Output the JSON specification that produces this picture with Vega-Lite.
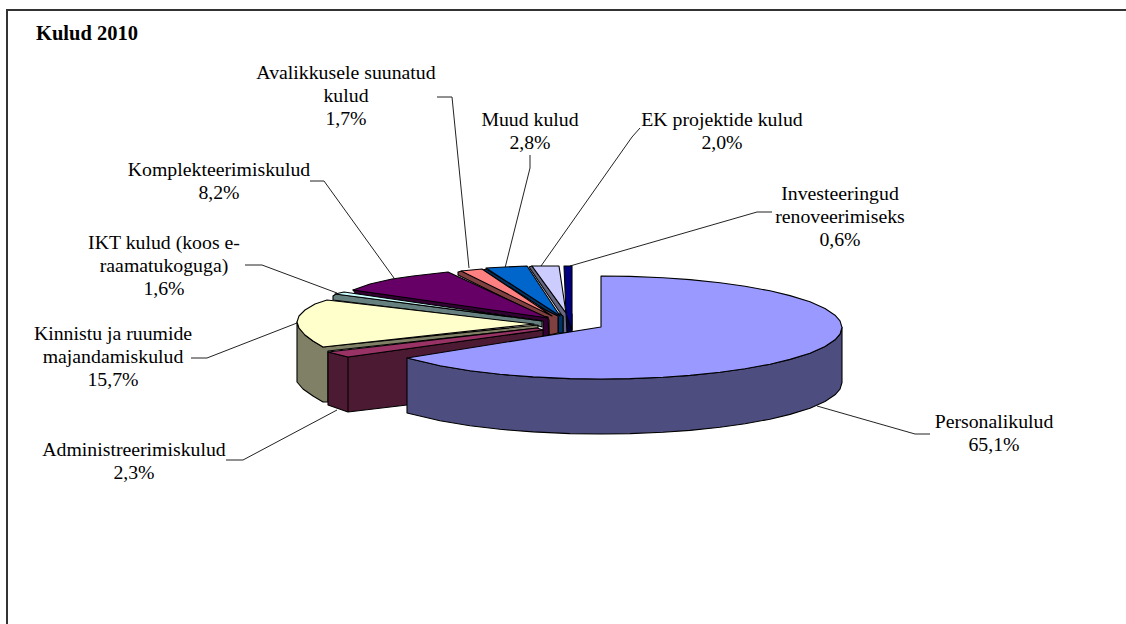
{"$schema":"https://vega.github.io/schema/vega-lite/v6.json","width":1126,"height":624,"autosize":{"type":"fit","contains":"padding"},"padding":0,"background":"white","config":{"view":{"stroke":null}},"projection":{"type":"identity","scale":1,"translate":[0,0]},"layer":[
{"data":{"values":[
{"type":"Feature","properties":{"name":"frame"},"geometry":{"type":"LineString","coordinates":[[7,630],[7,10],[1130,10]]}}]},"mark":{"type":"geoshape","filled":false,"stroke":"#333333","strokeWidth":2}},
{"data":{"values":[
{"type":"Feature","properties":{"name":"Personalikulud"},"geometry":{"type":"LineString","coordinates":[[817,406],[915,434],[930,434]]}},
{"type":"Feature","properties":{"name":"Administreerimiskulud"},"geometry":{"type":"LineString","coordinates":[[337,410],[243,460],[226,460]]}},
{"type":"Feature","properties":{"name":"Kinnistu ja ruumide majandamiskulud"},"geometry":{"type":"LineString","coordinates":[[297,323],[207,358],[191,358]]}},
{"type":"Feature","properties":{"name":"IKT kulud"},"geometry":{"type":"LineString","coordinates":[[337,293],[262,265],[245,265]]}},
{"type":"Feature","properties":{"name":"Komplekteerimiskulud"},"geometry":{"type":"LineString","coordinates":[[394,278],[324,181],[310,181]]}},
{"type":"Feature","properties":{"name":"Avalikkusele suunatud kulud"},"geometry":{"type":"LineString","coordinates":[[469,268],[452,97],[437,97]]}},
{"type":"Feature","properties":{"name":"Muud kulud"},"geometry":{"type":"LineString","coordinates":[[505,268],[530,168],[530,155]]}},
{"type":"Feature","properties":{"name":"EK projektide kulud"},"geometry":{"type":"LineString","coordinates":[[541,266],[632,137],[640,128]]}},
{"type":"Feature","properties":{"name":"Investeeringud renoveerimiseks"},"geometry":{"type":"LineString","coordinates":[[570,266],[757,212],[772,212]]}}]},"mark":{"type":"geoshape","filled":false,"stroke":"#222222","strokeWidth":1}},
{"data":{"values":[
{"type":"Feature","properties":{"piece":"Investeeringud wall"},"geometry":{"type":"Polygon","coordinates":[[[566,314],[572,314],[572,332],[566,333],[566,314]]]}},
{"type":"Feature","properties":{"piece":"Investeeringud top"},"geometry":{"type":"Polygon","coordinates":[[[564,266],[572,266],[572,330],[566,314],[564,266]]]}},
{"type":"Feature","properties":{"piece":"EK wall"},"geometry":{"type":"Polygon","coordinates":[[[529,267],[532,266],[566,313],[567,333],[563,333],[563,317],[529,267]]]}},
{"type":"Feature","properties":{"piece":"EK top"},"geometry":{"type":"Polygon","coordinates":[[[532,266],[559,266],[566,313],[532,266]]]}},
{"type":"Feature","properties":{"piece":"Muud wall"},"geometry":{"type":"Polygon","coordinates":[[[483,270],[486,269],[563,316],[563,333],[558,333],[558,318],[483,270]]]}},
{"type":"Feature","properties":{"piece":"Muud top"},"geometry":{"type":"Polygon","coordinates":[[[486,268],[505,267],[527,266],[560,316],[486,268]]]}},
{"type":"Feature","properties":{"piece":"Avalikkusele wall"},"geometry":{"type":"Polygon","coordinates":[[[458,272],[462,271],[558,316],[558,333],[549,335],[549,320],[458,275],[458,272]]]}},
{"type":"Feature","properties":{"piece":"Avalikkusele top"},"geometry":{"type":"Polygon","coordinates":[[[461,271],[482,269],[552,316],[461,271]]]}},
{"type":"Feature","properties":{"piece":"Komplekteerimiskulud wall"},"geometry":{"type":"Polygon","coordinates":[[[353,290],[548,317],[549,335],[543,336],[543,321],[356,294],[353,290]]]}},
{"type":"Feature","properties":{"piece":"Komplekteerimiskulud top"},"geometry":{"type":"Polygon","coordinates":[[[353,290],[370,284],[392,279],[413,276],[448,272],[548,318],[353,290]]]}},
{"type":"Feature","properties":{"piece":"IKT wall"},"geometry":{"type":"Polygon","coordinates":[[[333,296],[336,294],[542,321],[542,327],[535,325],[333,300],[333,296]]]}},
{"type":"Feature","properties":{"piece":"IKT top"},"geometry":{"type":"Polygon","coordinates":[[[335,294],[344,292],[542,321],[335,294]]]}},
{"type":"Feature","properties":{"piece":"Kinnistu wall"},"geometry":{"type":"Polygon","coordinates":[[[297,322],[299,328],[305,335],[313,341],[323,347],[538,325],[538,328],[328,351],[328,402],[323,402],[313,396],[303,389],[297,382],[297,322]]]}},
{"type":"Feature","properties":{"piece":"Kinnistu top"},"geometry":{"type":"Polygon","coordinates":[[[327,300],[315,304],[305,310],[299,316],[297,322],[299,328],[305,335],[313,341],[323,347],[534,324],[327,300]]]}},
{"type":"Feature","properties":{"piece":"Administreerimiskulud wall"},"geometry":{"type":"Polygon","coordinates":[[[328,352],[348,357],[543,330],[543,350],[407,405],[348,412],[328,405],[328,352]]]}},
{"type":"Feature","properties":{"piece":"Administreerimiskulud seam"},"geometry":{"type":"LineString","coordinates":[[348,357],[348,412]]}},
{"type":"Feature","properties":{"piece":"Administreerimiskulud top"},"geometry":{"type":"Polygon","coordinates":[[[328,352],[537,328],[543,330],[348,357],[328,352]]]}},
{"type":"Feature","properties":{"piece":"Personalikulud wall"},"geometry":{"type":"Polygon","coordinates":[[[407,358],[440,365.8],[470,370.7],[500,374.3],[533,376.9],[570,378.6],[601,379],[630,378.6],[663,377.2],[690,375.4],[720,372.3],[745,368.8],[770,364.2],[790,359.4],[810,353.2],[825,346.5],[835,339.8],[840,334.1],[842,327.5],[842,382.5],[840,389.1],[835,394.8],[825,401.5],[810,408.2],[790,414.4],[770,419.2],[745,423.8],[720,427.3],[690,430.4],[663,432.2],[630,433.6],[601,434],[570,433.6],[533,431.9],[500,429.3],[470,425.7],[440,420.8],[407,413],[407,358]]]}},
{"type":"Feature","properties":{"piece":"Personalikulud top"},"geometry":{"type":"Polygon","coordinates":[[[601,276],[630,276.4],[663,277.8],[690,279.6],[720,282.7],[745,286.2],[770,290.8],[790,295.6],[810,301.8],[825,308.5],[835,315.2],[840,320.9],[842,327.5],[840,334.1],[835,339.8],[825,346.5],[810,353.2],[790,359.4],[770,364.2],[745,368.8],[720,372.3],[690,375.4],[663,377.2],[630,378.6],[601,379],[570,378.6],[533,376.9],[500,374.3],[470,370.7],[440,365.8],[407,358],[601,327],[601,276]]]}}
]},"mark":{"type":"geoshape","stroke":"black","strokeWidth":1.1,"strokeJoin":"round"},"encoding":{"color":{"field":"properties.piece","type":"nominal","legend":null,"scale":{"domain":["Investeeringud wall","Investeeringud top","EK wall","EK top","Muud wall","Muud top","Avalikkusele wall","Avalikkusele top","Komplekteerimiskulud wall","Komplekteerimiskulud top","IKT wall","IKT top","Kinnistu wall","Kinnistu top","Administreerimiskulud wall","Administreerimiskulud seam","Administreerimiskulud top","Personalikulud wall","Personalikulud top"],"range":["#000040","#000080","#666680","#CCCCFF","#003366","#0066CC","#804040","#FF8080","#330033","#660066","#668080","#CCFFFF","#808066","#FFFFCC","#4D1A33","#4D1A33","#993366","#4D4D80","#9999FF"]}}}},
{"data":{"values":[
{"label":"Avalikkusele suunatud\nkulud\n1,7%","value":1.7,"lon":346,"lat":73},
{"label":"Muud kulud\n2,8%","value":2.8,"lon":530,"lat":120},
{"label":"EK projektide kulud\n2,0%","value":2.0,"lon":722,"lat":120},
{"label":"Investeeringud\nrenoveerimiseks\n0,6%","value":0.6,"lon":840,"lat":194},
{"label":"Komplekteerimiskulud\n8,2%","value":8.2,"lon":219,"lat":170},
{"label":"IKT kulud (koos e-\nraamatukoguga)\n1,6%","value":1.6,"lon":164,"lat":243},
{"label":"Kinnistu ja ruumide\nmajandamiskulud\n15,7%","value":15.7,"lon":113,"lat":334},
{"label":"Administreerimiskulud\n2,3%","value":2.3,"lon":134,"lat":450},
{"label":"Personalikulud\n65,1%","value":65.1,"lon":994,"lat":422}
]},"mark":{"type":"text","font":"Liberation Serif","fontSize":19.8,"lineBreak":"\n","lineHeight":23,"align":"center","baseline":"middle","color":"black"},"encoding":{"longitude":{"field":"lon","type":"quantitative"},"latitude":{"field":"lat","type":"quantitative"},"text":{"field":"label","type":"nominal"}}},
{"data":{"values":[{"label":"Kulud 2010","lon":36,"lat":34}]},"mark":{"type":"text","font":"Liberation Serif","fontSize":20.5,"fontWeight":"bold","align":"left","baseline":"middle","color":"black"},"encoding":{"longitude":{"field":"lon","type":"quantitative"},"latitude":{"field":"lat","type":"quantitative"},"text":{"field":"label","type":"nominal"}}}
]}
